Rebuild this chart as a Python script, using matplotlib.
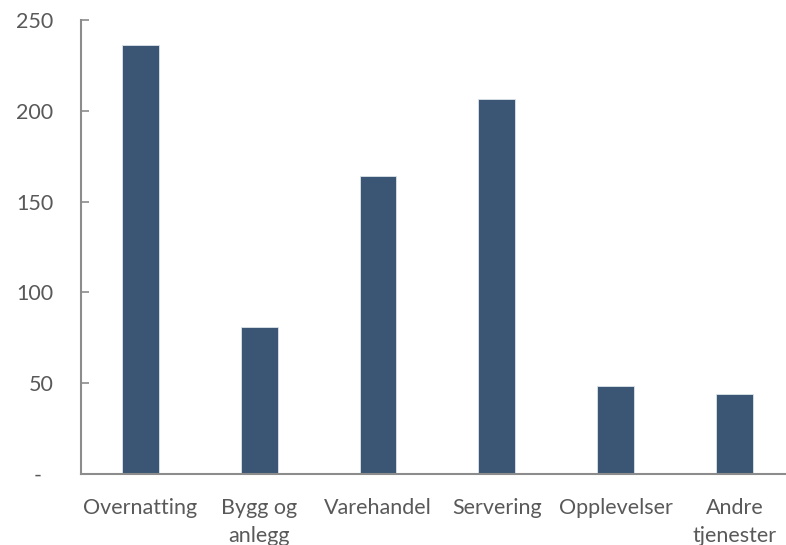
import matplotlib
matplotlib.use("Agg")
import matplotlib.pyplot as plt

categories = ["Overnatting", "Bygg og\nanlegg", "Varehandel", "Servering",
              "Opplevelser", "Andre\ntjenester"]
values = [236.5, 80.8, 164.3, 206.5, 48.3, 43.9]
ytick_values = [0, 50, 100, 150, 200, 250]
ytick_labels = ["-  ", "50", "100", "150", "200", "250"]

W, H = 786, 545
fig = plt.figure(figsize=(W / 100, H / 100), dpi=100)
plt.rcParams["font.family"] = ["Lato", "DejaVu Sans"]

left, right = 81, 786
bottom, top = 474, 20
ax = fig.add_axes([left / W, (H - bottom) / H, (right - left) / W, (bottom - top) / H])

bar_color = "#3A5674"
text_color = "#595959"
axis_color = "#8C8C8C"

x = list(range(len(categories)))
ax.bar(x, values, width=0.31, color=bar_color, edgecolor="#DCE3EA", linewidth=0.6)

ax.set_xlim(-0.5, 5.5 - 8 / 119)
ax.set_ylim(0, 250)

ax.set_yticks(ytick_values)
ax.set_yticklabels(ytick_labels)
ax.set_xticks(x)
ax.set_xticklabels(categories, linespacing=1.5)

for s in ("top", "right"):
    ax.spines[s].set_visible(False)
for s in ("left", "bottom"):
    ax.spines[s].set_color(axis_color)
    ax.spines[s].set_linewidth(1.5)

ax.tick_params(axis="y", direction="in", length=6, width=1.2, color=axis_color,
               labelsize=15.5, labelcolor=text_color, pad=20)
ax.tick_params(axis="x", length=0, labelsize=15.5, labelcolor=text_color, pad=17)

fig.savefig("out.png", dpi=100)
